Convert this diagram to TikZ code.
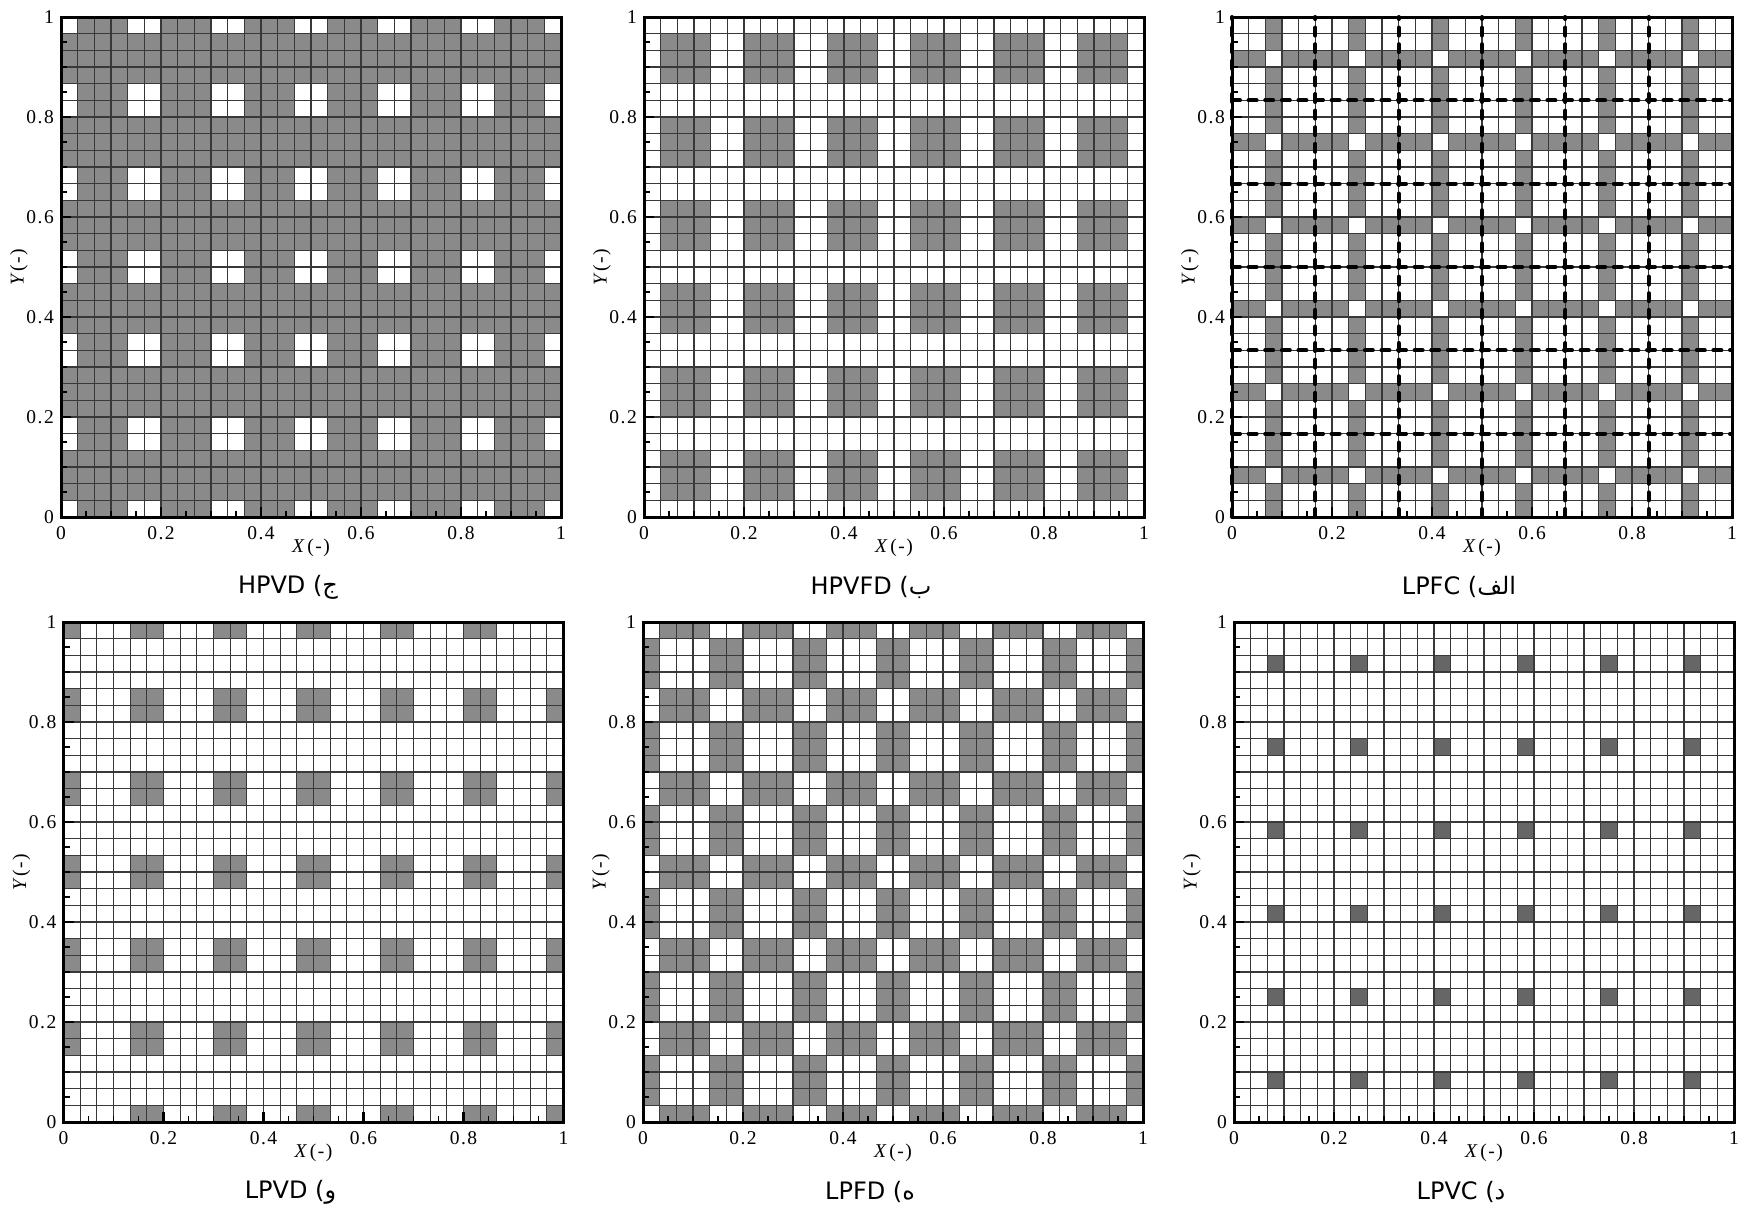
\documentclass[tikz,border=0pt]{standalone}
\usepackage{fontspec}
\setmainfont{Liberation Serif}
\newfontfamily\tickfont[LetterSpace=8]{Liberation Serif}
\newfontfamily\capfont{DejaVu Sans}
\newfontfamily\arabicfont[Script=Arabic]{DejaVu Sans}
\TeXXeTstate=1
\definecolor{cellgray}{RGB}{138,138,138}
\definecolor{darkcell}{RGB}{102,102,102}
\tikzset{
  gridline/.style={line width=1.25pt, draw=black!78},
  frameline/.style={line width=3pt, draw=black},
  majortick/.style={line width=2.4pt},
  minortick/.style={line width=1.4pt},
  ticklabel/.style={font=\tickfont\fontsize{19.5}{19.5}\selectfont, inner sep=0pt},
  axistitle/.style={font=\tickfont\fontsize{19.5}{19.5}\selectfont, inner sep=0pt},
  captiontext/.style={font=\capfont\fontsize{24}{24}\selectfont, inner sep=0pt},
  cutline/.style={line width=4pt, dash pattern=on 8pt off 8.6pt, line cap=round},
}
\newcommand\cellsz{16.6667}
% #1 name prefix, #2 x shift, #3 y shift, #4 fill colour, #5 condition, #6 caption
\newcommand\plotpanel[6]{%
\begin{scope}[shift={(#2,#3)}]
  \foreach \i in {0,...,29}{
    \foreach \j in {0,...,29}{
      \pgfmathtruncatemacro\mi{mod(\i,5)}%
      \pgfmathtruncatemacro\mj{mod(\j,5)}%
      \pgfmathtruncatemacro\wi{or(\mi==0,\mi==4)}%
      \pgfmathtruncatemacro\wj{or(\mj==0,\mj==4)}%
      \pgfmathtruncatemacro\ci{\mi==2}%
      \pgfmathtruncatemacro\cj{\mj==2}%
      \pgfmathtruncatemacro\g{#5}%
      \ifnum\g=1 \fill[#4] ({\i*\cellsz},{\j*\cellsz}) rectangle ++(\cellsz,\cellsz);\fi
    }}
  \foreach \k in {1,...,29}{
    \draw[gridline] ({\k*\cellsz},0) -- ++(0,500);
    \draw[gridline] (0,{\k*\cellsz}) -- ++(500,0);
  }
  \foreach \k in {0,...,20}{
    \draw[minortick] ({\k*25},0) -- ++(0,6);
    \draw[minortick] (0,{\k*25}) -- ++(6,0);
  }
  \foreach \k in {0,...,5}{
    \draw[majortick] ({\k*100},0) -- ++(0,10);
    \draw[majortick] (0,{\k*100}) -- ++(10,0);
  }
  \draw[frameline] (0,0) rectangle (500,500);
  \foreach \k/\t in {0/0,1/0.2,2/0.4,3/0.6,4/0.8,5/1}{
    \node[ticklabel,anchor=north] (#1x\k) at ({\k*100},-9) {\t};
    \node[ticklabel,anchor=east] (#1y\k) at (-7,{\k*100}) {\t};
  }
  \node[axistitle] (#1xt) at (250,-31) {{\itshape X}\,(-)};
  \node[axistitle,rotate=90] (#1yt) at (-42,250) {{\itshape Y}\,(-)};
  \node[captiontext] (#1cap) at (227,-70) {#6};
\end{scope}}

\begin{document}
\begin{tikzpicture}[x=1pt,y=1pt]
\useasboundingbox[fill=white] (0,0) rectangle (1739,-1210);
% top row
\plotpanel{c}{61}{-517}{cellgray}{1-(\wi*\wj)}{HPVD ({\arabicfont ج}}
\plotpanel{b}{644}{-517}{cellgray}{(\wi+\wj)==0}{HPVFD ({\arabicfont ب}}
\plotpanel{a}{1232}{-517}{cellgray}{\ci!=\cj}{LPFC ({\arabicfont\beginR الف\endR}}
% dashed lines of LPFC
\begin{scope}[shift={(1232,-517)}]
  \foreach \k in {0,...,5}{
    \draw[cutline] ({\k*83.3333},0) -- ++(0,500);
  }
  \foreach \k in {1,...,5}{
    \draw[cutline] (0,{\k*83.3333}) -- ++(500,0);
  }
\end{scope}
% bottom row
\plotpanel{f}{63.5}{-1122}{cellgray}{(\wi*\wj)*((\i+\j)!=0)*((\i+\j)!=58)}{LPVD ({\arabicfont و}}
\plotpanel{e}{643}{-1122}{cellgray}{\wi!=\wj}{LPFD ({\arabicfont ه}}
\plotpanel{d}{1234}{-1122}{darkcell}{\ci*\cj}{LPVC ({\arabicfont د}}
\end{tikzpicture}
\end{document}
